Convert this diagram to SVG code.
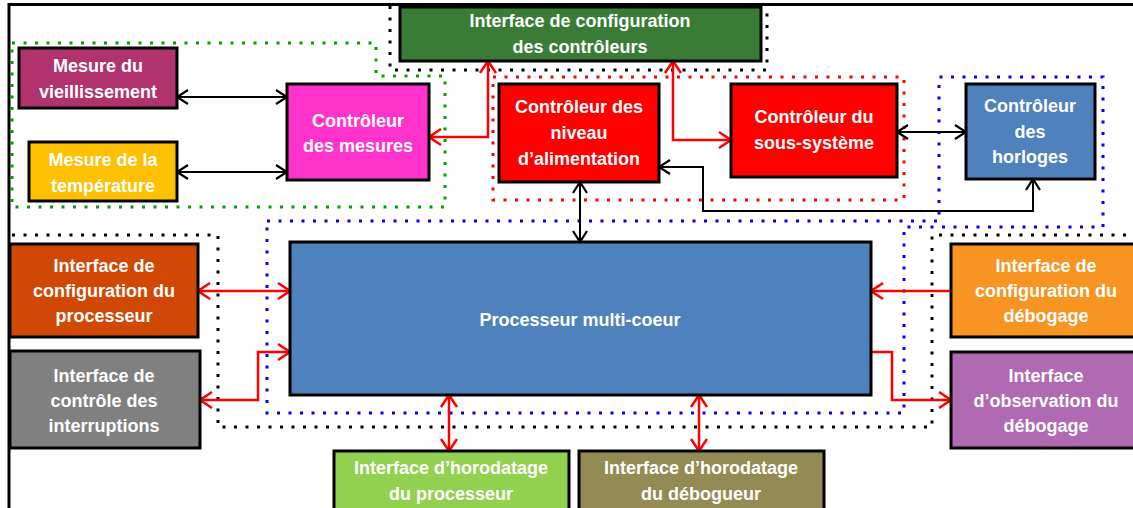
<svg xmlns="http://www.w3.org/2000/svg" width="1133" height="508" viewBox="0 0 1133 508">
<style>
.box{stroke:#000;stroke-width:3}
.t{font-family:"Liberation Sans",Arial,sans-serif;font-weight:bold;font-size:18px;fill:#fff;text-anchor:middle}
.dot{fill:none;stroke-width:3;stroke-dasharray:3 8.5}
.cb{fill:none;stroke:#000;stroke-width:2}
.cr{fill:none;stroke:#f00;stroke-width:2.5}
</style>
<defs>
<marker id="ab" viewBox="-13 -9 15 18" refX="0" refY="0" markerWidth="15" markerHeight="18" markerUnits="userSpaceOnUse" orient="auto-start-reverse">
<path d="M-11,-7 L0,0 L-11,7" fill="none" stroke="#000" stroke-width="2.2"/>
</marker>
<marker id="ar" viewBox="-15 -10 17 20" refX="0" refY="0" markerWidth="17" markerHeight="20" markerUnits="userSpaceOnUse" orient="auto-start-reverse">
<path d="M-12,-8 L0,0 L-12,8" fill="none" stroke="#f00" stroke-width="2.5"/>
</marker>
</defs>
<rect width="1133" height="508" fill="#fff"/>
<g id="frame"><path d="M9,508 V4.5 H1133" fill="none" stroke="#000" stroke-width="3"/></g>
<g id="groups">
<path class="dot" stroke="#000" d="M390,6 V70 H767 V6"/>
<path class="dot" stroke="#00a000" d="M12,43 H376 V76 H445 V207 H12 Z"/>
<path class="dot" stroke="#f00" d="M493,77 H904 V200 H493 Z"/>
<path class="dot" stroke="#0000ff" d="M267,221 H939 V77 H1103 V227 H904 V413 H267 Z"/>
<path class="dot" stroke="#000" d="M12,235 H218 V427 H932 V235 H1133"/>
</g>
<g id="connectors">
<path class="cb" d="M177,97 H287" marker-start="url(#ab)" marker-end="url(#ab)"/>
<path class="cb" d="M177,172 H287" marker-start="url(#ab)" marker-end="url(#ab)"/>
<path class="cb" d="M897,132 H966" marker-start="url(#ab)" marker-end="url(#ab)"/>
<path class="cb" d="M1033,179 V211 H703 V167 H659" marker-start="url(#ab)" marker-end="url(#ab)"/>
<path class="cb" d="M580,182 V242" marker-start="url(#ab)" marker-end="url(#ab)"/>
<path class="cr" d="M429,137 H488 V61" marker-start="url(#ar)" marker-end="url(#ar)"/>
<path class="cr" d="M673,61 V140 H731" marker-start="url(#ar)" marker-end="url(#ar)"/>
<path class="cr" d="M198,291 H290" marker-start="url(#ar)" marker-end="url(#ar)"/>
<path class="cr" d="M200,400 H258 V352 H290" marker-start="url(#ar)" marker-end="url(#ar)"/>
<path class="cr" d="M951,291 H871" marker-end="url(#ar)"/>
<path class="cr" d="M871,352 H892 V400 H951" marker-end="url(#ar)"/>
<path class="cr" d="M449,395 V451" marker-start="url(#ar)" marker-end="url(#ar)"/>
<path class="cr" d="M699,395 V451" marker-start="url(#ar)" marker-end="url(#ar)"/>
</g>
<g id="cfg-ctrl"><rect class="box" x="400" y="7" width="361" height="54" fill="#387C35"/>
<text class="t" x="580" y="27">Interface de configuration</text><text class="t" x="580" y="53">des contrôleurs</text></g>
<g id="vieillissement"><rect class="box" x="19" y="48" width="158" height="60" fill="#B1336E"/>
<text class="t" x="98" y="72">Mesure du</text><text class="t" x="98" y="98">vieillissement</text></g>
<g id="temperature"><rect class="box" x="29" y="142" width="148" height="59" fill="#FFC000"/>
<text class="t" x="103" y="166">Mesure de la</text><text class="t" x="103" y="192">température</text></g>
<g id="ctrl-mesures"><rect class="box" x="287" y="84" width="142" height="96" fill="#FF33CC"/>
<text class="t" x="358" y="127">Contrôleur</text><text class="t" x="358" y="152">des mesures</text></g>
<g id="ctrl-alim"><rect class="box" x="499" y="84" width="160" height="98" fill="#FF0000"/>
<text class="t" x="579" y="113">Contrôleur des</text><text class="t" x="579" y="139">niveau</text><text class="t" x="579" y="165">d’alimentation</text></g>
<g id="ctrl-sous-systeme"><rect class="box" x="731" y="84" width="166" height="93" fill="#FF0000"/>
<text class="t" x="814" y="123">Contrôleur du</text><text class="t" x="814" y="149">sous-système</text></g>
<g id="ctrl-horloges"><rect class="box" x="966" y="84" width="129" height="95" fill="#4F81BD"/>
<text class="t" x="1030" y="112">Contrôleur</text><text class="t" x="1030" y="138">des</text><text class="t" x="1030" y="163">horloges</text></g>
<g id="processeur"><rect class="box" x="290" y="242" width="581" height="153" fill="#4F81BD"/>
<text class="t" x="580" y="326">Processeur multi-coeur</text></g>
<g id="cfg-proc"><rect class="box" x="10" y="244" width="188" height="93" fill="#D14805"/>
<text class="t" x="104" y="272">Interface de</text><text class="t" x="104" y="297">configuration du</text><text class="t" x="104" y="322">processeur</text></g>
<g id="interruptions"><rect class="box" x="10" y="351" width="190" height="97" fill="#808080"/>
<text class="t" x="104" y="382">Interface de</text><text class="t" x="104" y="407">contrôle des</text><text class="t" x="104" y="432">interruptions</text></g>
<g id="cfg-debug"><rect class="box" x="951" y="244" width="200" height="93" fill="#F79422"/>
<text class="t" x="1046" y="272">Interface de</text><text class="t" x="1046" y="297">configuration du</text><text class="t" x="1046" y="322">débogage</text></g>
<g id="obs-debug"><rect class="box" x="951" y="352" width="200" height="96" fill="#B069B3"/>
<text class="t" x="1046" y="382">Interface</text><text class="t" x="1046" y="407">d’observation du</text><text class="t" x="1046" y="432">débogage</text></g>
<g id="horo-proc"><rect class="box" x="334" y="451" width="235" height="80" fill="#92D050"/>
<text class="t" x="451" y="474">Interface d’horodatage</text><text class="t" x="451" y="500">du processeur</text></g>
<g id="horo-debug"><rect class="box" x="579" y="451" width="245" height="80" fill="#948A54"/>
<text class="t" x="701" y="474">Interface d’horodatage</text><text class="t" x="701" y="500">du débogueur</text></g>
</svg>
